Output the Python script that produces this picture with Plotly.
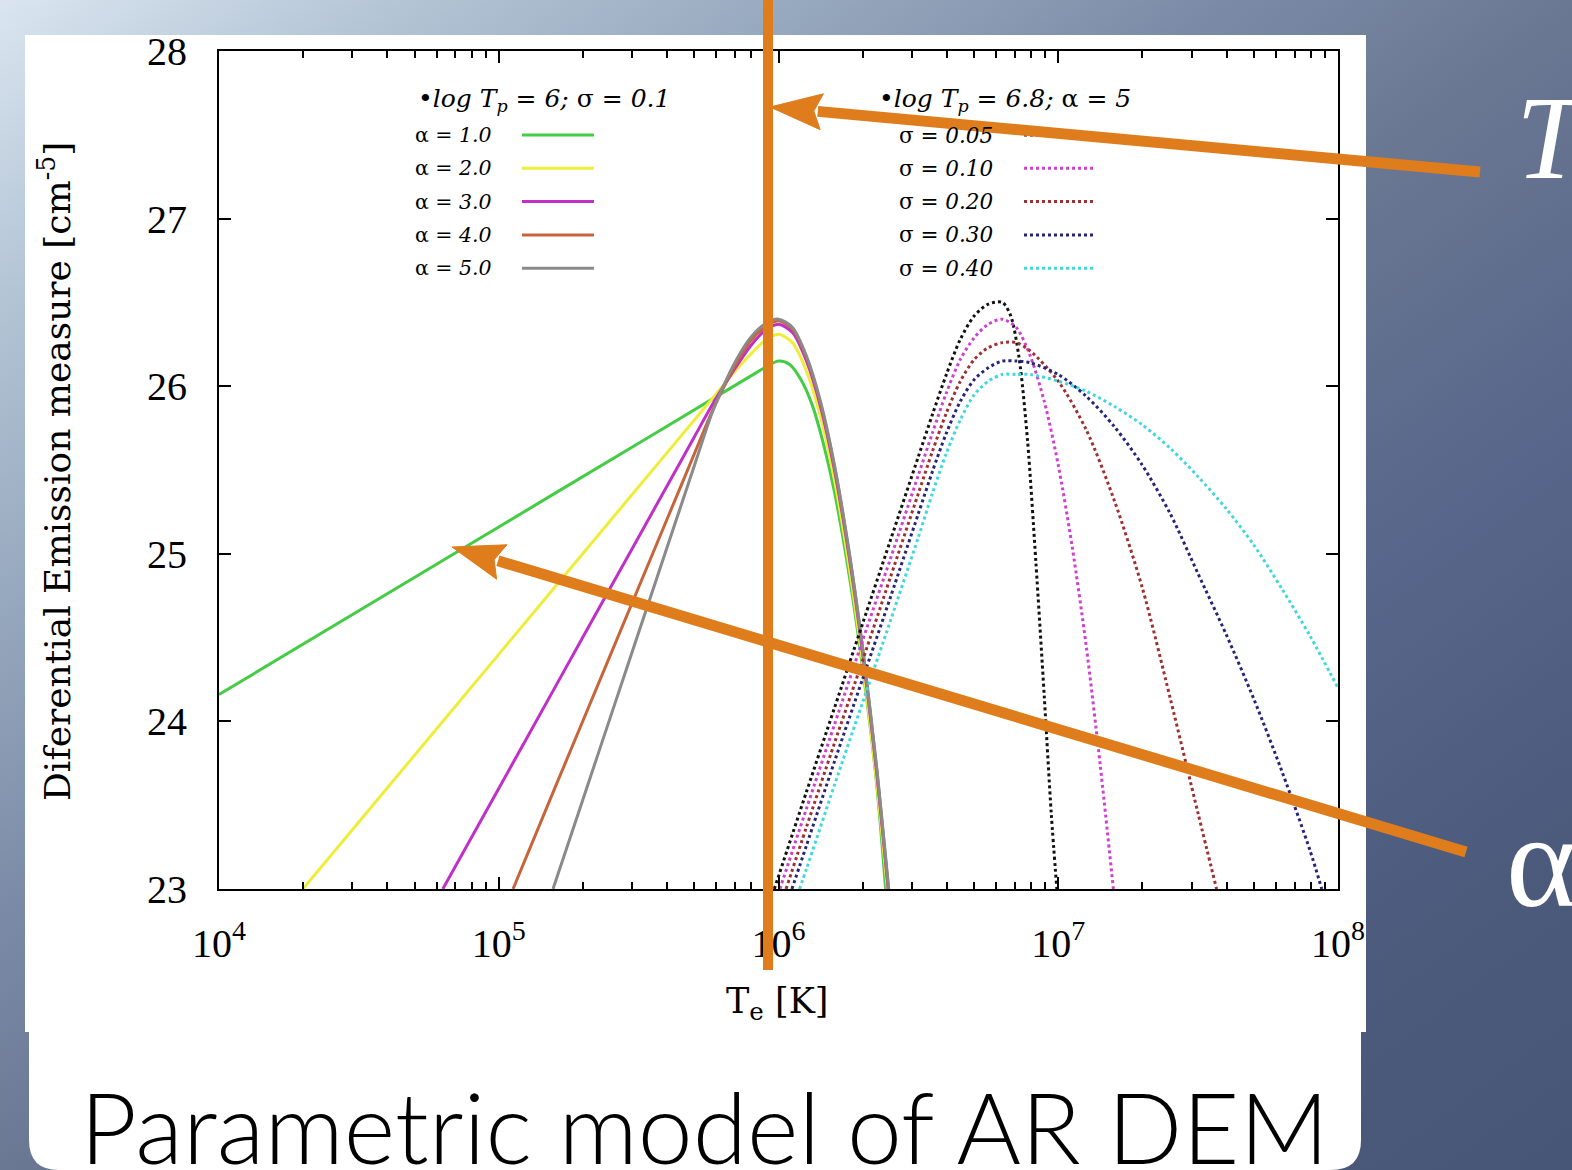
import base64
import numpy as np
import plotly.graph_objects as go

W, H = 1572, 1170

# ---------------- data (log10 T, log10 DEM) ----------------
# log Tp = 6, sigma = 0.1, alpha varies
logT_a1 = [4.0, 5.0, 5.5, 5.8, 5.9, 5.95, 6.0, 6.04, 6.08, 6.12, 6.16, 6.2, 6.25, 6.3, 6.35, 6.383]
dem_a1 = [24.16, 25.16, 25.66, 25.96, 26.06, 26.11, 26.15, 26.13, 26.04, 25.89, 25.66, 25.37, 24.90, 24.33, 23.64, 23.0]

logT_a2 = [4.30, 4.5, 5.0, 5.5, 5.7, 5.76, 5.8, 5.85, 5.9, 5.95, 6.0, 6.05, 6.1, 6.15, 6.2, 6.25, 6.3, 6.35, 6.389]
dem_a2 = [23.0, 23.4, 24.4, 25.4, 25.8, 25.92, 26.0, 26.1, 26.19, 26.27, 26.31, 26.26, 26.09, 25.82, 25.44, 24.95, 24.36, 23.65, 23.0]

logT_a3 = [4.80, 5.0, 5.2, 5.4, 5.6, 5.7, 5.76, 5.8, 5.85, 5.9, 5.95, 6.0, 6.05, 6.1, 6.15, 6.2, 6.25, 6.3, 6.35, 6.392]
dem_a3 = [23.0, 23.6, 24.2, 24.8, 25.4, 25.7, 25.88, 25.99, 26.12, 26.24, 26.33, 26.37, 26.32, 26.15, 25.88, 25.50, 25.01, 24.42, 23.71, 23.0]

logT_a4 = [5.051, 5.2, 5.4, 5.6, 5.7, 5.76, 5.8, 5.85, 5.9, 5.95, 6.0, 6.05, 6.1, 6.15, 6.2, 6.25, 6.3, 6.35, 6.393]
dem_a4 = [23.0, 23.6, 24.4, 25.2, 25.6, 25.84, 25.98, 26.14, 26.27, 26.35, 26.39, 26.34, 26.17, 25.90, 25.52, 25.03, 24.44, 23.73, 23.0]

logT_a5 = [5.194, 5.3, 5.4, 5.5, 5.6, 5.7, 5.76, 5.8, 5.85, 5.9, 5.95, 6.0, 6.05, 6.1, 6.15, 6.2, 6.25, 6.3, 6.35, 6.394]
dem_a5 = [23.0, 23.53, 24.03, 24.53, 25.03, 25.53, 25.83, 25.99, 26.16, 26.29, 26.37, 26.40, 26.35, 26.18, 25.91, 25.53, 25.04, 24.45, 23.74, 23.0]

# log Tp = 6.8, alpha = 5, sigma varies
logT_s05 = [5.985, 6.1, 6.2, 6.3, 6.4, 6.5, 6.55, 6.6, 6.65, 6.7, 6.75, 6.8, 6.83, 6.86, 6.89, 6.92, 6.95, 6.975, 6.995]
dem_s05 = [23.0, 23.58, 24.08, 24.58, 25.08, 25.58, 25.83, 26.07, 26.28, 26.42, 26.49, 26.50, 26.42, 26.17, 25.68, 24.95, 24.15, 23.45, 23.0]

logT_s10 = [6.005, 6.1, 6.2, 6.3, 6.4, 6.5, 6.55, 6.6, 6.65, 6.7, 6.75, 6.8, 6.85, 6.9, 6.95, 7.0, 7.05, 7.1, 7.15, 7.197]
dem_s10 = [23.0, 23.48, 23.98, 24.48, 24.97, 25.47, 25.72, 25.96, 26.16, 26.29, 26.37, 26.40, 26.35, 26.18, 25.91, 25.53, 25.04, 24.45, 23.74, 23.0]

logT_s20 = [6.027, 6.1, 6.2, 6.3, 6.4, 6.5, 6.55, 6.6, 6.65, 6.7, 6.75, 6.8, 6.85, 6.9, 7.0, 7.1, 7.2, 7.3, 7.4, 7.5, 7.566]
dem_s20 = [23.0, 23.37, 23.87, 24.36, 24.86, 25.36, 25.61, 25.84, 26.03, 26.16, 26.23, 26.26, 26.26, 26.21, 26.03, 25.74, 25.32, 24.80, 24.14, 23.45, 23.0]

logT_s30 = [6.048, 6.1, 6.2, 6.3, 6.4, 6.5, 6.55, 6.6, 6.65, 6.7, 6.75, 6.8, 6.85, 6.9, 7.0, 7.1, 7.2, 7.3, 7.4, 7.5, 7.6, 7.7, 7.8, 7.9, 7.942]
dem_s30 = [23.0, 23.26, 23.76, 24.25, 24.74, 25.24, 25.49, 25.72, 25.91, 26.04, 26.11, 26.15, 26.15, 26.14, 26.07, 25.94, 25.76, 25.53, 25.24, 24.88, 24.52, 24.13, 23.70, 23.23, 23.0]

logT_s40 = [6.075, 6.1, 6.2, 6.3, 6.4, 6.5, 6.55, 6.6, 6.65, 6.7, 6.75, 6.8, 6.85, 6.9, 7.0, 7.1, 7.2, 7.3, 7.4, 7.5, 7.6, 7.7, 7.8, 7.9, 8.0]
dem_s40 = [23.0, 23.12, 23.62, 24.11, 24.60, 25.10, 25.36, 25.60, 25.80, 25.95, 26.03, 26.07, 26.07, 26.07, 26.03, 25.97, 25.88, 25.77, 25.63, 25.46, 25.27, 25.05, 24.79, 24.51, 24.20]

alpha_labels = ["1.0", "2.0", "3.0", "4.0", "5.0"]
sigma_labels = ["0.05", "0.10", "0.20", "0.30", "0.40"]
x_decades = [4, 5, 6, 7, 8]
y_ticks = [23, 24, 25, 26, 27, 28]

alpha_series = [(logT_a1, dem_a1), (logT_a2, dem_a2), (logT_a3, dem_a3), (logT_a4, dem_a4), (logT_a5, dem_a5)]
sigma_series = [(logT_s05, dem_s05), (logT_s10, dem_s10), (logT_s20, dem_s20), (logT_s30, dem_s30), (logT_s40, dem_s40)]
alpha_colors = ["#44cc44", "#eeee3a", "#c030c8", "#c8643a", "#8a8a8a"]
sigma_colors = ["#111111", "#d040d0", "#a03030", "#25257a", "#40d8dc"]

# ---------------- helpers ----------------
def X(px):
    return px / W

def Y(py):
    return 1 - py / H

SERIF = "DejaVu Serif"
TICKFONT = "Liberation Serif"
ORANGE = "#df7d1c"

fig = go.Figure()

for (lt, dm), c in zip(alpha_series, alpha_colors):
    fig.add_trace(go.Scatter(x=10 ** np.array(lt), y=dm, mode="lines",
                             line=dict(color=c, width=3, shape="spline", smoothing=0.8),
                             hoverinfo="skip"))
for (lt, dm), c in zip(sigma_series, sigma_colors):
    fig.add_trace(go.Scatter(x=10 ** np.array(lt), y=dm, mode="lines",
                             line=dict(color=c, width=3, dash="3px,3px", shape="spline", smoothing=0.8),
                             hoverinfo="skip"))

# ---------------- background ----------------
svg = f"""<svg xmlns='http://www.w3.org/2000/svg' width='{W}' height='{H}' viewBox='0 0 {W} {H}' preserveAspectRatio='none'>
<defs><linearGradient id='g' x1='0' y1='0' x2='1' y2='1'>
<stop offset='0' stop-color='#dae5f0'/>
<stop offset='0.13' stop-color='#b3c4d5'/>
<stop offset='0.26' stop-color='#96a8bd'/>
<stop offset='0.39' stop-color='#7b8ba7'/>
<stop offset='0.5' stop-color='#6b7893'/>
<stop offset='0.68' stop-color='#57668a'/>
<stop offset='0.85' stop-color='#4c5b7c'/>
<stop offset='1' stop-color='#475676'/>
</linearGradient></defs>
<rect width='{W}' height='{H}' fill='url(#g)'/></svg>"""
src = "data:image/svg+xml;base64," + base64.b64encode(svg.encode()).decode()

shapes = []
# white chart panel
shapes.append(dict(type="rect", xref="paper", yref="paper", x0=X(25), x1=X(1366), y0=Y(1032), y1=Y(35),
                   fillcolor="white", line=dict(width=0), layer="below"))
# white title panel with rounded bottom corners
r = 30
x0p, x1p, y0p, y1p = 29, 1361, 1020, 1170
path = (f"M {X(x0p)} {Y(y0p)} L {X(x1p)} {Y(y0p)} L {X(x1p)} {Y(y1p - r)} "
        f"Q {X(x1p)} {Y(y1p)} {X(x1p - r)} {Y(y1p)} L {X(x0p + r)} {Y(y1p)} "
        f"Q {X(x0p)} {Y(y1p)} {X(x0p)} {Y(y1p - r)} Z")
shapes.append(dict(type="path", xref="paper", yref="paper", path=path,
                   fillcolor="white", line=dict(width=0), layer="below"))

# legend samples
row_y = [135 + 33.3 * k for k in range(5)]
for k in range(5):
    shapes.append(dict(type="line", xref="paper", yref="paper", x0=X(522), x1=X(594), y0=Y(row_y[k]), y1=Y(row_y[k]),
                       line=dict(color=alpha_colors[k], width=3), layer="above"))
    shapes.append(dict(type="line", xref="paper", yref="paper", x0=X(1024), x1=X(1096), y0=Y(row_y[k]), y1=Y(row_y[k]),
                       line=dict(color=sigma_colors[k], width=3, dash="3px,3px"), layer="above"))

# orange vertical line
shapes.append(dict(type="line", xref="paper", yref="paper", x0=X(768), x1=X(768), y0=Y(0), y1=Y(970),
                   line=dict(color=ORANGE, width=10), layer="above"))

def arrow(tail, tip, head_len=52, half_w=18, width=11):
    tx, ty = tail
    px, py = tip
    dx, dy = px - tx, py - ty
    L = (dx * dx + dy * dy) ** 0.5
    ux, uy = dx / L, dy / L
    bx, by = px - ux * head_len, py - uy * head_len
    nx, ny = -uy, ux
    out = [dict(type="line", xref="paper", yref="paper", x0=X(tx), y0=Y(ty), x1=X(bx + ux * 4), y1=Y(by + uy * 4),
                line=dict(color=ORANGE, width=width), layer="above")]
    p = (f"M {X(px)} {Y(py)} L {X(bx + nx * half_w)} {Y(by + ny * half_w)} "
         f"L {X(bx + ux * 8)} {Y(by + uy * 8)} L {X(bx - nx * half_w)} {Y(by - ny * half_w)} Z")
    out.append(dict(type="path", xref="paper", yref="paper", path=p, fillcolor=ORANGE,
                    line=dict(color=ORANGE, width=1), layer="above"))
    return out

shapes += arrow((1480, 172), (770, 107))
shapes += arrow((1466, 852), (452, 547))

# ---------------- annotations ----------------
ann = []
def text(s, x, y, size, font=SERIF, color="black", xanchor="left", yanchor="middle", angle=0, weight=None):
    f = dict(family=font, size=size, color=color)
    if weight is not None:
        f["weight"] = weight
    ann.append(dict(text=s, x=X(x), y=Y(y), xref="paper", yref="paper", showarrow=False,
                    xanchor=xanchor, yanchor=yanchor, textangle=angle, font=f))

text("•<i>log T<sub>p</sub> = 6;</i> σ = <i>0.1</i>", 416, 100, 25)
text("•<i>log T<sub>p</sub> = 6.8;</i> α = <i>5</i>", 877, 100, 25)
for k in range(5):
    text(f"α = <i>{alpha_labels[k]}</i>", 494, row_y[k], 20.5, xanchor="right")
    text(f"σ = <i>{sigma_labels[k]}</i>", 995, row_y[k], 21.5, xanchor="right")

text("Diferential Emission measure [cm<sup>-5</sup>]", 55, 472, 36, xanchor="center", angle=-90)
text("T<sub>e</sub> [K]", 777, 1004, 35, xanchor="center")
text("Parametric model of AR DEM", 78, 1126, 98.5, font="Lato", xanchor="left", weight=300)
text("<i>T<sub>p</sub></i>", 1514, 147, 118, font="Liberation Serif", color="white")
text("α", 1504, 861, 134, font="Liberation Serif", color="white")

fig.update_layout(
    width=W, height=H, autosize=False,
    margin=dict(l=0, r=0, t=0, b=0, pad=0, autoexpand=False),
    paper_bgcolor="white", plot_bgcolor="white", showlegend=False,
    images=[dict(source=src, xref="paper", yref="paper", x=0, y=1, sizex=1, sizey=1,
                 xanchor="left", yanchor="top", sizing="stretch", layer="below")],
    shapes=shapes, annotations=ann,
)

fig.update_xaxes(
    type="log", range=[4, 8], domain=[X(219), X(1338)], automargin=False,
    showgrid=False, zeroline=False, showline=True, linecolor="black", linewidth=2, mirror="ticks",
    ticks="inside", ticklen=12, tickwidth=2, tickcolor="black",
    tickmode="array", tickvals=[10.0 ** d for d in x_decades],
    ticktext=[f"10<sup>{d}</sup>" for d in x_decades],
    tickfont=dict(family=TICKFONT, size=40, color="black"), ticklabelstandoff=18,
    minor=dict(ticks="inside", ticklen=7, tickwidth=2, tickcolor="black",
               tickvals=[k * 10.0 ** d for d in x_decades[:-1] for k in range(2, 10)]),
)
fig.update_yaxes(
    range=[23, 28], domain=[Y(889), Y(51)], automargin=False,
    showgrid=False, zeroline=False, showline=True, linecolor="black", linewidth=2, mirror="ticks",
    ticks="inside", ticklen=12, tickwidth=2, tickcolor="black",
    tickmode="array", tickvals=y_ticks, ticktext=[str(v) for v in y_ticks],
    tickfont=dict(family=TICKFONT, size=40, color="black"), ticklabelstandoff=22,
)

fig.write_html("out.html")
